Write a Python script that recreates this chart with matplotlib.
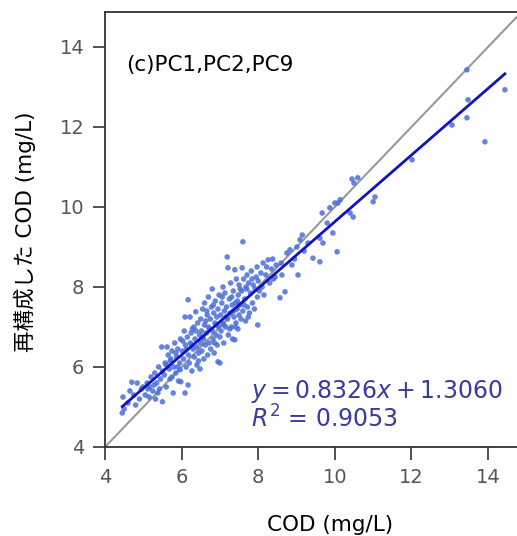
import matplotlib
matplotlib.use("Agg")
import matplotlib.pyplot as plt
import numpy as np

plt.rcParams['font.family'] = ['DejaVu Sans', 'Noto Sans CJK JP']

cod_obs = [
    4.45, 4.5, 4.47, 4.6, 4.7, 4.75, 4.84, 4.9, 4.95, 4.99, 4.8, 4.65,
    5.05, 5.1, 5.15, 5.17, 5.2, 5.25, 5.3, 5.32, 5.35, 5.4, 5.42, 5.45, 5.48, 5.5, 5.5, 5.38, 5.28, 5.12,
    5.55, 5.57, 5.6, 5.62, 5.65, 5.68, 5.7, 5.72, 5.75, 5.78, 5.8, 5.82, 5.85, 5.87, 5.9, 5.92, 5.95, 5.96, 5.97, 5.98, 5.6, 5.7, 5.85, 5.75, 5.9,
    6.02, 6.05, 6.07, 6.09, 6.09, 6.1, 6.12, 6.15, 6.17, 6.17, 6.18, 6.2, 6.22, 6.23, 6.25, 6.27, 6.3, 6.32, 6.33, 6.35, 6.37, 6.4, 6.4, 6.42, 6.45, 6.47, 6.48, 6.5, 6.5, 6.28, 6.13, 6.38, 6.03, 6.44, 6.26,
    6.52, 6.53, 6.55, 6.57, 6.58, 6.6, 6.6, 6.62, 6.65, 6.67, 6.68, 6.7, 6.7, 6.72, 6.75, 6.76, 6.78, 6.8, 6.8, 6.82, 6.84, 6.85, 6.87, 6.88, 6.9, 6.92, 6.93, 6.95, 6.95, 6.97, 6.98, 7.0, 7.0, 6.63, 6.73, 6.83, 6.91, 6.56, 6.66, 6.86,
    7.02, 7.03, 7.05, 7.07, 7.08, 7.1, 7.12, 7.13, 7.15, 7.17, 7.19, 7.2, 7.21, 7.22, 7.25, 7.27, 7.28, 7.3, 7.32, 7.33, 7.35, 7.37, 7.39, 7.39, 7.4, 7.42, 7.43, 7.45, 7.47, 7.48, 7.5, 7.5, 7.06, 7.16, 7.26, 7.36, 7.46, 7.11, 7.31, 7.41,
    7.52, 7.55, 7.57, 7.58, 7.6, 7.6, 7.62, 7.65, 7.67, 7.7, 7.71, 7.72, 7.75, 7.77, 7.8, 7.82, 7.85, 7.87, 7.9, 7.92, 7.95, 7.97, 7.99, 7.98, 8.0, 7.53, 7.63, 7.74, 7.84, 7.68,
    8.03, 8.07, 8.1, 8.13, 8.15, 8.2, 8.26, 8.3, 8.35, 8.4, 8.44, 8.47, 8.22, 8.38,
    8.57, 8.62, 8.7, 8.75, 8.83, 8.88, 9.01, 9.04, 9.09, 9.2, 9.3, 9.43, 8.6, 8.95, 9.15,
    9.61, 9.61, 9.67, 9.69, 9.87, 9.95, 10.06, 10.0, 10.08, 10.14, 10.4, 10.48, 10.45, 10.6, 10.5, 11.0, 11.05, 9.8,
    12.02, 13.06, 13.45, 13.48, 13.45, 13.92, 14.44,
]
cod_rec = [
    4.85, 4.95, 5.25, 5.1, 5.62, 5.3, 5.6, 5.2, 5.45, 5.5, 5.05, 5.4,
    5.3, 5.6, 5.25, 5.5, 5.75, 5.4, 5.85, 5.2, 5.6, 6.0, 5.45, 5.7, 6.5, 5.9, 5.13, 5.35, 5.55, 5.45,
    5.8, 6.1, 5.5, 6.5, 6.3, 5.95, 5.7, 6.2, 6.4, 5.35, 6.0, 6.6, 5.85, 6.25, 6.45, 5.65, 6.1, 5.93, 6.7, 5.63, 6.05, 6.15, 6.35, 5.75, 6.0,
    6.4, 6.2, 6.9, 5.35, 7.25, 6.55, 6.0, 6.75, 7.68, 5.55, 6.3, 6.1, 7.25, 6.6, 6.85, 5.9, 6.45, 7.0, 6.25, 6.7, 7.38, 6.5, 6.05, 7.1, 6.35, 6.8, 5.95, 6.6, 7.2, 6.95, 6.45, 6.9, 6.65, 6.15, 6.55,
    6.9, 6.4, 7.45, 6.7, 6.2, 7.05, 7.6, 6.55, 6.85, 7.3, 6.3, 7.0, 7.75, 6.6, 7.2, 6.45, 7.5, 6.9, 7.95, 6.7, 7.35, 6.35, 7.1, 7.65, 6.8, 7.25, 6.55, 7.45, 6.13, 7.0, 7.8, 6.75, 6.1, 7.15, 6.95, 7.55, 7.05, 6.75, 7.4, 6.6,
    7.3, 6.9, 7.6, 7.1, 8.0, 6.6, 7.4, 7.85, 7.0, 7.5, 8.75, 7.2, 8.48, 6.8, 7.7, 7.35, 8.1, 7.0, 7.55, 6.7, 7.9, 7.25, 8.43, 6.68, 7.6, 7.1, 8.2, 7.45, 6.95, 7.8, 7.3, 8.05, 7.75, 7.25, 6.95, 7.4, 7.65, 7.05, 7.75, 7.0,
    7.55, 7.2, 7.9, 8.48, 9.13, 7.4, 8.2, 7.7, 7.15, 7.95, 8.3, 7.5, 8.1, 7.35, 7.85, 8.4, 7.6, 8.05, 7.45, 7.95, 8.25, 8.5, 7.05, 7.75, 8.15, 7.95, 7.55, 7.25, 8.2, 8.0,
    7.9, 8.35, 8.0, 8.6, 7.8, 8.3, 8.68, 8.1, 8.45, 8.2, 8.25, 8.55, 8.5, 8.7,
    7.73, 8.3, 7.88, 8.85, 8.93, 8.55, 9.0, 8.3, 9.18, 8.9, 9.1, 8.72, 8.6, 8.7, 9.3,
    9.22, 8.63, 9.85, 9.1, 9.98, 9.35, 8.88, 10.1, 10.1, 10.18, 9.85, 9.75, 10.7, 10.73, 10.6, 10.13, 10.25, 9.6,
    11.18, 12.05, 13.43, 12.68, 12.23, 11.63, 12.93,
]
slope = 0.8326
intercept = 1.3060
r2 = 0.9053
xticks = [4, 6, 8, 10, 12, 14]
yticks = [4, 6, 8, 10, 12, 14]
panel_label = "(c)PC1,PC2,PC9"
xlabel = "COD (mg/L)"
ylabel = "再構成した COD (mg/L)"

W, H = 517, 536
fig = plt.figure(figsize=(W / 100, H / 100), dpi=100)
ax = fig.add_axes([105 / W, (H - 447) / H, 425 / W, 435 / H])

x = np.array(cod_obs)
y = np.array(cod_rec)

ax.plot([0, 20], [0, 20], color='#999999', lw=1.5, zorder=1)
ax.scatter(x, y, s=16, color='#4a6fd6', alpha=0.85, edgecolors='none', zorder=2)
xl = np.array([x.min(), x.max()])
ax.plot(xl, slope * xl + intercept, color='#1212c0', lw=2.0, zorder=3)

ax.set_xlim(4, 4 + 425 / 38.3)
ax.set_ylim(4, 4 + 435 / 40.0)
ax.set_xticks(xticks)
ax.set_yticks(yticks)
ax.tick_params(direction='out', length=9, width=1.2, colors='#333333',
               labelcolor='#555555', labelsize=14, pad=6)
ax.tick_params(top=False, right=False)
for s in ['left', 'bottom', 'top', 'right']:
    ax.spines[s].set_linewidth(1.3)
    ax.spines[s].set_color('#333333')

ax.text(4.55, 13.55, panel_label, fontsize=15.5, color='black', va='center', ha='left')
ax.text(7.82, 5.38, r'$y = %.4f x + %.4f$' % (slope, intercept), fontsize=17,
        color='#3a3aa0', va='center', ha='left')
ax.text(7.82, 4.70, r'$R^2$ = %.4f' % r2, fontsize=17,
        color='#3a3aa0', va='center', ha='left')

fig.text(330 / W, 1 - 525 / H, xlabel, fontsize=15.5, ha='center', va='center')
fig.text(25 / W, 1 - 232 / H, ylabel, fontsize=15.5, ha='center', va='center', rotation=90)

fig.savefig('out.png', dpi=100)
